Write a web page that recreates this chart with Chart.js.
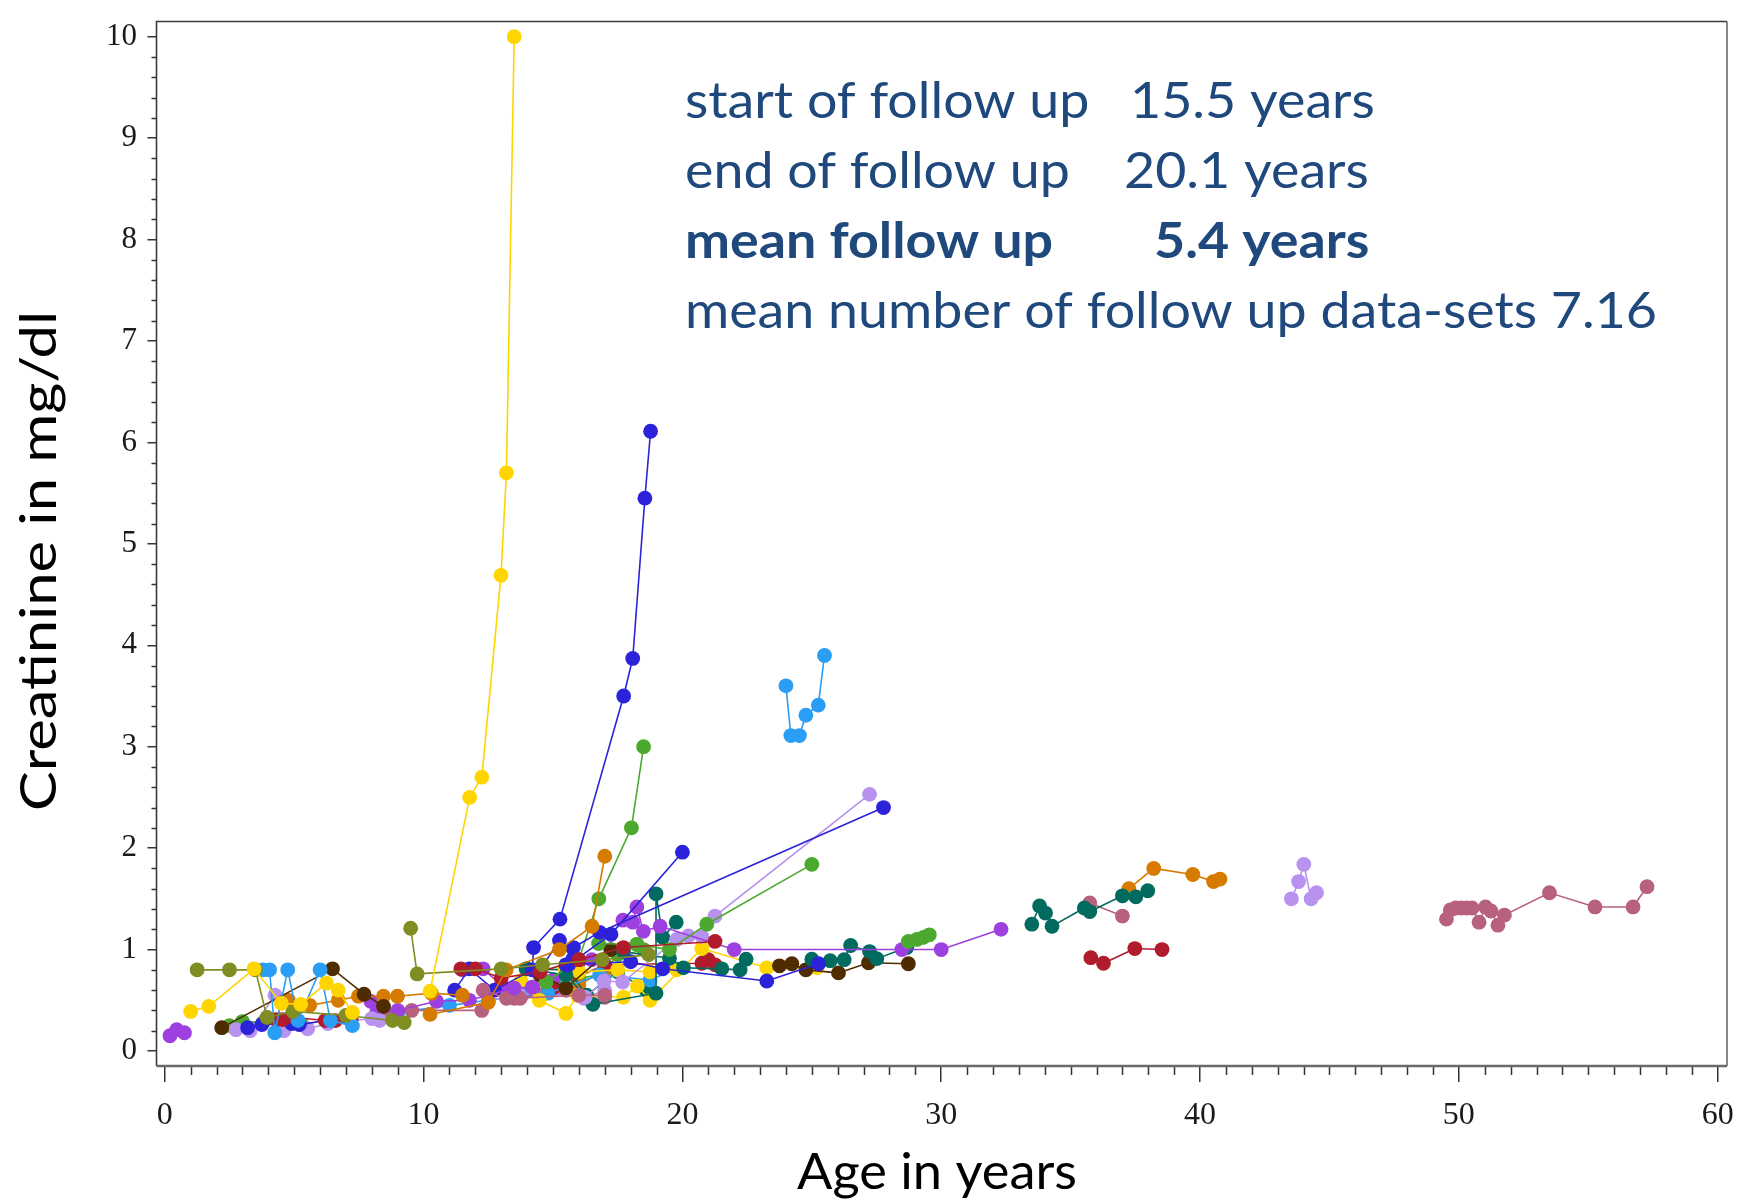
<!DOCTYPE html>
<html>
<head>
<meta charset="utf-8">
<title>Creatinine by age</title>
<script src="https://cdn.jsdelivr.net/npm/chart.js@4.4.1/dist/chart.umd.min.js"></script>
<style>
  html, body { margin: 0; padding: 0; background: #ffffff; }
  canvas { display: block; }
</style>
</head>
<body>
<canvas id="chart" width="1750" height="1199"></canvas>
<script>
// Creatinine (mg/dl) against age (years), one polyline per patient.
const ageTicks = [0, 10, 20, 30, 40, 50, 60];
const creatTicks = [0, 1, 2, 3, 4, 5, 6, 7, 8, 9, 10];

const ages01 = [10.25, 11.78, 12.25, 12.99, 13.2, 13.5];
const creat01 = [0.59, 2.5, 2.7, 4.69, 5.7, 10.0];
const ages02 = [0.2, 0.46, 0.76];
const creat02 = [0.15, 0.21, 0.18];
const ages03 = [1.0, 1.7, 3.45, 4.5, 5.25, 6.25, 6.7, 7.25];
const creat03 = [0.39, 0.44, 0.81, 0.47, 0.46, 0.67, 0.6, 0.38];
const ages04 = [1.25, 2.5, 3.5, 3.95, 4.95, 7.0, 8.8, 9.25];
const creat04 = [0.8, 0.8, 0.8, 0.33, 0.39, 0.35, 0.3, 0.28];
const ages05 = [9.5, 9.75, 13.0, 14.6, 16.9, 18.7];
const creat05 = [1.21, 0.76, 0.81, 0.85, 0.9, 0.95];
const ages06 = [3.8, 4.05, 4.25, 4.75, 5.15, 6.0, 6.4, 7.25];
const creat06 = [0.8, 0.8, 0.18, 0.8, 0.3, 0.8, 0.3, 0.25];
const ages07 = [2.2, 6.48, 7.7, 8.45];
const creat07 = [0.23, 0.81, 0.56, 0.44];
const ages08 = [4.3, 4.55, 5.0, 6.2, 6.6, 7.2];
const creat08 = [0.31, 0.31, 0.33, 0.3, 0.3, 0.31];
const ages09 = [3.2, 3.75, 4.9, 5.2, 7.0];
const creat09 = [0.23, 0.26, 0.27, 0.26, 0.33];
const ages10 = [2.75, 3.3, 4.26, 4.6, 5.52, 6.3, 8.0, 8.3];
const creat10 = [0.21, 0.2, 0.55, 0.2, 0.22, 0.27, 0.32, 0.3];
const ages11 = [2.5, 3.0, 3.8, 4.5, 5.3];
const creat11 = [0.25, 0.29, 0.28, 0.25, 0.26];
const ages12 = [4.78, 5.6, 6.7, 7.48, 8.45, 8.99, 10.3, 11.5];
const creat12 = [0.5, 0.45, 0.5, 0.54, 0.54, 0.54, 0.57, 0.55];
const ages13 = [10.25, 12.5, 13.19, 15.25, 16.51, 17.0];
const creat13 = [0.36, 0.48, 0.8, 1.0, 1.23, 1.92];
const ages14 = [7.96, 8.2, 9.0, 10.5, 11.77, 13.5, 14.2];
const creat14 = [0.49, 0.39, 0.4, 0.49, 0.5, 0.62, 0.63];
const ages15 = [8.5, 9.54, 12.25, 12.3, 13.2, 13.73, 16.0, 17.0];
const creat15 = [0.38, 0.4, 0.4, 0.6, 0.52, 0.52, 0.55, 0.55];
const ages16 = [11.44, 12.0, 13.0, 14.5, 16.0, 17.72, 21.26];
const creat16 = [0.81, 0.81, 0.72, 0.78, 0.9, 1.02, 1.08];
const ages17 = [11.2, 11.77, 12.74, 14.2, 14.25, 15.27, 17.73, 18.08, 18.55, 18.77];
const creat17 = [0.6, 0.81, 0.6, 0.8, 1.02, 1.3, 3.5, 3.87, 5.45, 6.11];
const ages18 = [14.5, 15.25, 15.76, 15.79, 16.8, 27.77];
const creat18 = [0.8, 1.09, 0.905, 1.02, 1.17, 2.4];
const ages19 = [15.6, 17.24, 20.0];
const creat19 = [0.85, 1.15, 1.96];
const ages20 = [15.5, 18.0, 19.24, 23.26, 25.26];
const creat20 = [0.85, 0.88, 0.81, 0.69, 0.86];
const ages21 = [14.73, 16.0, 16.77, 18.03, 18.5];
const creat21 = [0.68, 0.9, 1.5, 2.2, 3.0];
const ages22 = [16.76, 18.24, 19.5, 20.94, 25.0];
const creat22 = [1.06, 1.05, 1.0, 1.25, 1.84];
const ages23 = [28.73, 29.06, 29.31, 29.54];
const creat23 = [1.08, 1.1, 1.12, 1.145];
const ages24 = [17.7, 18.08, 18.24, 18.49, 19.14, 22.0, 28.48, 30.0, 32.31];
const creat24 = [1.29, 1.27, 1.42, 1.18, 1.23, 1.0, 1.0, 1.0, 1.2];
const ages25 = [16.24, 16.97, 17.69, 19.78, 20.23, 20.75, 21.26, 27.23];
const creat25 = [0.53, 0.69, 0.68, 1.1, 1.135, 1.13, 1.33, 2.53];
const ages26 = [13.96, 15.5, 16.54, 18.98, 18.98, 19.24, 19.76];
const creat26 = [0.81, 0.75, 0.46, 0.57, 1.55, 1.12, 1.27];
const ages27 = [17.72, 19.5, 20.04, 21.52, 22.23, 22.46];
const creat27 = [0.98, 0.915, 0.82, 0.81, 0.8, 0.905];
const ages28 = [25.0, 25.71, 26.25, 26.5, 27.23, 27.51, 28.67];
const creat28 = [0.905, 0.89, 0.9, 1.04, 0.98, 0.91, 1.02];
const ages29 = [33.5, 33.8, 34.03, 34.28, 35.53, 35.74, 37.0, 37.52, 37.98];
const creat29 = [1.25, 1.43, 1.36, 1.23, 1.41, 1.375, 1.53, 1.52, 1.58];
const ages30 = [23.75, 24.23, 24.77, 26.03, 27.19, 28.73];
const creat30 = [0.84, 0.86, 0.8, 0.77, 0.87, 0.86];
const ages31 = [14.5, 15.5, 17.23];
const creat31 = [0.75, 0.62, 1.0];
const ages32 = [13.76, 14.47, 15.5, 15.94, 17.72, 18.26, 18.75, 20.75, 23.26, 25.2];
const creat32 = [0.69, 0.5, 0.37, 0.55, 0.53, 0.64, 0.5, 1.01, 0.82, 0.82];
const ages33 = [15.47, 16.02, 17.5, 18.75, 19.78];
const creat33 = [0.81, 0.78, 0.8, 0.78, 0.8];
const ages34 = [14.8, 16.8, 18.75, 19.78];
const creat34 = [0.57, 0.75, 0.7, 0.81];
const ages35 = [24.0, 24.19, 24.52, 24.77, 25.25, 25.49];
const creat35 = [3.6, 3.11, 3.11, 3.31, 3.41, 3.9];
const ages36 = [43.53, 43.81, 44.01, 44.29, 44.5];
const creat36 = [1.5, 1.67, 1.84, 1.5, 1.56];
const ages37 = [37.25, 38.21, 39.72, 40.52, 40.77];
const creat37 = [1.6, 1.8, 1.74, 1.67, 1.695];
const ages38 = [35.74, 37.0];
const creat38 = [1.46, 1.33];
const ages39 = [35.78, 36.27, 37.48, 38.53];
const creat39 = [0.92, 0.865, 1.01, 1.0];
const ages40 = [49.52, 49.67, 49.88, 50.09, 50.3, 50.51, 50.78, 51.03, 51.24, 51.51, 51.76, 53.5, 55.26, 56.73, 57.27];
const creat40 = [1.3, 1.39, 1.41, 1.41, 1.41, 1.41, 1.27, 1.42, 1.38, 1.24, 1.34, 1.56, 1.42, 1.42, 1.62];
const ages41 = [15.0, 17.0, 20.75, 21.0, 21.26];
const creat41 = [0.62, 0.85, 0.865, 0.9, 0.85];
const ages42 = [14.22, 15.0, 16.0, 16.5, 17.0];
const creat42 = [0.63, 0.7, 0.88, 0.9, 0.85];
const ages43 = [13.5, 14.5, 15.5, 16.0, 17.0];
const creat43 = [0.52, 0.55, 0.6, 0.55, 0.53];
const ages44 = [14.0, 15.6, 16.3, 17.5, 18.6];
const creat44 = [0.81, 0.8, 0.55, 0.78, 0.6];
const ages45 = [14.8, 15.5, 16.0, 17.0];
const creat45 = [0.6, 0.6, 0.65, 0.8];
const ages46 = [15.0, 16.0, 16.9, 17.5, 18.24, 18.5];
const creat46 = [0.68, 0.72, 0.75, 0.95, 1.05, 1.0];
const ages47 = [12.5, 13.7, 15.0, 16.2, 17.0];
const creat47 = [0.5, 0.55, 0.6, 0.52, 0.6];
const ages48 = [9.0, 11.0, 12.5, 13.8, 15.2];
const creat48 = [0.38, 0.45, 0.5, 0.55, 0.62];
const ages49 = [11.5, 12.3, 13.0, 14.0, 15.2];
const creat49 = [0.8, 0.81, 0.65, 0.6, 0.62];

// Line and marker colours.
const palette = {
  yellow: '#FFD500', blue: '#2B22DA', sky: '#2A9DF4', green: '#4CA92F',
  orange: '#D67A00', purple: '#9E3FE0', lavender: '#B792EF', teal: '#006B5E',
  brown: '#4E2C00', crimson: '#B11C2D', olive: '#7F8D22', mauve: '#B7617F'
};

const patients = [
  [ages01, creat01, 'yellow'], [ages02, creat02, 'purple'], [ages03, creat03, 'yellow'],
  [ages04, creat04, 'olive'], [ages05, creat05, 'olive'], [ages06, creat06, 'sky'],
  [ages07, creat07, 'brown'], [ages08, creat08, 'crimson'], [ages09, creat09, 'blue'],
  [ages10, creat10, 'lavender'], [ages11, creat11, 'green'], [ages12, creat12, 'orange'],
  [ages13, creat13, 'orange'], [ages14, creat14, 'purple'], [ages15, creat15, 'mauve'],
  [ages16, creat16, 'crimson'], [ages17, creat17, 'blue'], [ages18, creat18, 'blue'],
  [ages19, creat19, 'blue'], [ages20, creat20, 'blue'], [ages21, creat21, 'green'],
  [ages22, creat22, 'green'], [ages23, creat23, 'green'], [ages24, creat24, 'purple'],
  [ages25, creat25, 'lavender'], [ages26, creat26, 'teal'], [ages27, creat27, 'teal'],
  [ages28, creat28, 'teal'], [ages29, creat29, 'teal'], [ages30, creat30, 'brown'],
  [ages31, creat31, 'brown'], [ages32, creat32, 'yellow'], [ages33, creat33, 'yellow'],
  [ages34, creat34, 'sky'], [ages35, creat35, 'sky'], [ages36, creat36, 'lavender'],
  [ages37, creat37, 'orange'], [ages38, creat38, 'mauve'], [ages39, creat39, 'crimson'],
  [ages40, creat40, 'mauve'], [ages41, creat41, 'crimson'], [ages42, creat42, 'purple'],
  [ages43, creat43, 'mauve'], [ages44, creat44, 'teal'], [ages45, creat45, 'orange'],
  [ages46, creat46, 'green'], [ages47, creat47, 'lavender'], [ages48, creat48, 'sky'],
  [ages49, creat49, 'purple']
];

const datasets = patients.map(([ages, creat, key]) => {
  const c = palette[key];
  return {
    data: ages.map((a, i) => ({ x: a, y: creat[i] })),
    showLine: true,
    borderColor: c,
    backgroundColor: c,
    pointBackgroundColor: c,
    pointBorderColor: c,
    pointBorderWidth: 0,
    pointRadius: 7.4,
    borderWidth: 1.6,
    tension: 0
  };
});

const textBlue = '#1F497D';

// Draw text squeezed/stretched horizontally to a given width.
function fitText(ctx, text, x, y, width, align) {
  const w = ctx.measureText(text).width;
  ctx.save();
  ctx.translate(x, y);
  ctx.scale(width / w, 1);
  ctx.textAlign = align;
  ctx.fillText(text, 0, 0);
  ctx.restore();
}

const decorations = {
  id: 'decorations',
  afterDraw(chart) {
    const { ctx, chartArea: a } = chart;
    const xs = chart.scales.x, ys = chart.scales.y;
    ctx.save();

    // minor ticks
    ctx.strokeStyle = '#333';
    ctx.lineWidth = 1.5;
    ctx.beginPath();
    for (let v = 1; v < 60; v++) {
      if (v % 10 === 0) continue;
      const px = Math.round(xs.getPixelForValue(v)) + 0.5;
      ctx.moveTo(px, a.bottom);
      ctx.lineTo(px, a.bottom + 9);
    }
    for (let k = 1; k < 50; k++) {
      if (k % 5 === 0) continue;
      const py = Math.round(ys.getPixelForValue(k * 0.2)) + 0.5;
      ctx.moveTo(a.left - 5, py);
      ctx.lineTo(a.left, py);
    }
    ctx.stroke();

    // frame
    ctx.strokeStyle = '#3a3a3a';
    ctx.lineWidth = 1.6;
    ctx.beginPath();
    ctx.moveTo(a.left, a.bottom);
    ctx.lineTo(a.left, a.top);
    ctx.lineTo(a.right, a.top);
    ctx.stroke();
    ctx.strokeStyle = '#6a6a6a';
    ctx.beginPath();
    ctx.moveTo(a.right, a.top);
    ctx.lineTo(a.right, a.bottom);
    ctx.stroke();
    ctx.lineWidth = 2.6;
    ctx.beginPath();
    ctx.moveTo(a.left, a.bottom);
    ctx.lineTo(a.right, a.bottom);
    ctx.stroke();

    // axis titles
    ctx.fillStyle = '#000';
    ctx.font = '50px Lato';
    ctx.textBaseline = 'alphabetic';
    fitText(ctx, 'Age in years', 937, 1189, 280, 'center');
    ctx.save();
    ctx.translate(56, 561);
    ctx.rotate(-Math.PI / 2);
    fitText(ctx, 'Creatinine in mg/dl', 0, 0, 500, 'center');
    ctx.restore();

    // summary block
    ctx.fillStyle = textBlue;
    ctx.font = '50px Lato';
    const sx = 972 / ctx.measureText('mean number of follow up data-sets 7.16').width;
    const line = (txt, x, y, bold) => {
      ctx.font = (bold ? 'bold ' : '') + '50px Lato';
      ctx.save();
      ctx.translate(x, y);
      ctx.scale(sx, 1);
      ctx.textAlign = 'left';
      ctx.fillText(txt, 0, 0);
      ctx.restore();
    };
    line('start of follow up', 685, 118, false);
    line('15.5 years', 1130, 118, false);
    line('end of follow up', 685, 188, false);
    line('20.1 years', 1124, 188, false);
    line('mean follow up', 685, 258, true);
    line('5.4 years', 1154, 258, true);
    line('mean number of follow up data-sets 7.16', 685, 328, false);

    ctx.restore();
  }
};

new Chart(document.getElementById('chart'), {
  type: 'scatter',
  data: { datasets },
  options: {
    responsive: false,
    animation: false,
    devicePixelRatio: 1,
    layout: { padding: { left: 0, top: 21.5, right: 23, bottom: 0 } },
    plugins: { legend: { display: false }, tooltip: { enabled: false } },
    scales: {
      x: {
        type: 'linear',
        min: -0.32,
        max: 60.36,
        afterBuildTicks: s => { s.ticks = ageTicks.map(v => ({ value: v })); },
        afterFit: s => { s.height = 133; s.paddingLeft = 0; s.paddingRight = 0; },
        border: { display: false },
        grid: { display: true, drawOnChartArea: false, drawTicks: true, tickLength: 16, color: '#333', lineWidth: 1.5 },
        ticks: { padding: 14, color: '#1a1a1a', font: { family: 'Liberation Serif', size: 32 }, maxRotation: 0 }
      },
      y: {
        type: 'linear',
        min: -0.148,
        max: 10.15,
        afterBuildTicks: s => { s.ticks = creatTicks.map(v => ({ value: v })); },
        afterFit: s => { s.width = 156.5; s.paddingTop = 0; s.paddingBottom = 0; },
        border: { display: false },
        grid: { display: true, drawOnChartArea: false, drawTicks: true, tickLength: 9, color: '#333', lineWidth: 1.5 },
        ticks: { padding: 10.5, color: '#1a1a1a', font: { family: 'Liberation Serif', size: 31 } }
      }
    }
  },
  plugins: [decorations]
});
</script>
</body>
</html>
